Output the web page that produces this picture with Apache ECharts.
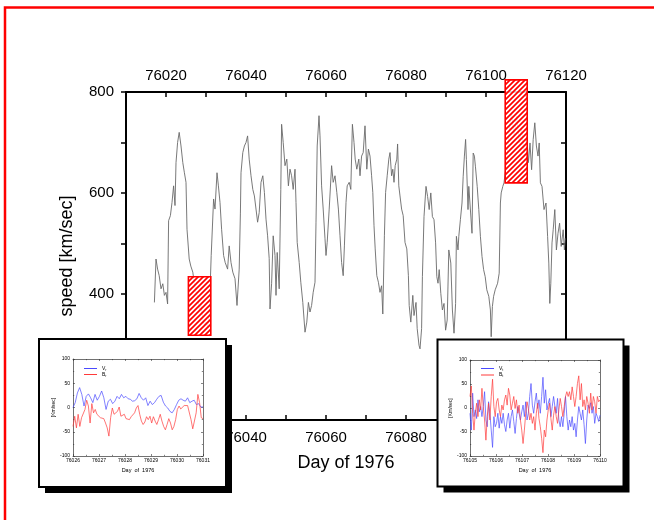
<!DOCTYPE html>
<html>
<head>
<meta charset="utf-8">
<script src="https://cdn.jsdelivr.net/npm/echarts@6/dist/echarts.min.js"></script>
<style>html,body{margin:0;padding:0;background:#fff;}#c{width:654px;height:520px;}</style>
</head>
<body>
<div id="c"></div>
<script>
// ---------- DATA ----------
// Main panel: solar wind speed vs day of 1976
const speedDays = [
  76017.1, 76017.5, 76017.9, 76018.3, 76018.75, 76019.2, 76019.6, 76020.0, 76020.4, 76020.65,
  76021.1, 76021.5, 76021.9, 76022.25, 76022.5, 76022.9, 76023.3, 76023.75, 76024.2, 76024.6,
  76025.0, 76025.25, 76025.8, 76026.2, 76026.7, 76027.1, 76027.5, 76027.9, 76028.3, 76028.7,
  76029.2, 76029.6, 76030.0, 76030.4, 76030.8, 76031.3, 76031.9, 76032.25, 76032.75, 76033.1,
  76033.5, 76033.9, 76034.4, 76034.8, 76035.4, 76035.8, 76036.25, 76036.7, 76037.25, 76037.75,
  76038.3, 76038.6, 76038.75, 76039.2, 76039.6, 76040.0, 76040.4, 76040.8, 76041.25, 76041.7,
  76042.1, 76042.5, 76042.9, 76043.3, 76043.75, 76044.2, 76044.6, 76045.0, 76045.4, 76045.8,
  76046.0, 76046.4, 76046.8, 76047.25, 76047.5, 76047.8, 76048.3, 76048.7, 76048.9, 76049.3,
  76049.75, 76050.2, 76050.6, 76051.0, 76051.4, 76051.8, 76052.25, 76052.5, 76052.8, 76053.3,
  76053.7, 76054.2, 76054.75, 76055.2, 76055.6, 76056.0, 76056.4, 76056.8, 76057.25, 76057.5,
  76057.8, 76058.25, 76058.5, 76058.9, 76059.3, 76059.75, 76060.0, 76060.3, 76060.8, 76061.4,
  76061.8, 76062.25, 76062.7, 76063.1, 76063.5, 76063.9, 76064.3, 76064.6, 76065.0, 76065.3,
  76065.8, 76066.2, 76066.6, 76067.0, 76067.3, 76067.7, 76068.2, 76068.5, 76068.9, 76069.3,
  76069.75, 76070.2, 76070.6, 76071.0, 76071.4, 76071.7, 76072.0, 76072.3, 76072.7, 76073.1,
  76073.5, 76073.9, 76074.2, 76074.6, 76074.9, 76075.3, 76075.7, 76076.0, 76076.4, 76076.7,
  76077.0, 76077.3, 76077.7, 76077.9, 76078.2, 76078.5, 76078.9, 76079.3, 76079.75, 76080.2,
  76080.6, 76080.8, 76081.2, 76081.7, 76082.0, 76082.5, 76082.8, 76083.25, 76083.5, 76083.9,
  76084.1, 76084.5, 76085.0, 76085.4, 76085.8, 76086.2, 76086.6, 76087.0, 76087.4, 76087.7,
  76088.0, 76088.3, 76088.7, 76089.1, 76089.5, 76089.9, 76090.3, 76090.7, 76091.2, 76091.6,
  76092.0, 76092.4, 76092.6, 76093.0, 76093.2, 76093.6, 76094.0, 76094.3, 76094.6, 76094.9,
  76095.1, 76095.5, 76095.7, 76096.1, 76096.5, 76096.8, 76097.1, 76097.35, 76097.8, 76098.2,
  76098.6, 76099.0, 76099.4, 76099.8, 76100.2, 76100.7, 76101.1, 76101.3, 76101.6, 76101.9,
  76102.3, 76102.9, 76103.3, 76103.6, 76103.8, 76104.2, 76104.5, 76105.2, 76105.9, 76106.4,
  76107.0, 76107.7, 76108.3, 76108.9, 76109.5, 76110.2, 76110.6, 76111.0, 76111.4, 76111.8,
  76112.2, 76112.6, 76113.0, 76113.3, 76113.6, 76114.0, 76114.5, 76115.0, 76115.4, 76115.7,
  76115.95, 76116.2, 76116.5, 76116.8, 76117.2, 76117.6, 76118.0, 76118.4, 76118.8, 76119.3,
  76119.6, 76119.8
];
const speedValues = [
  383, 469, 449, 436, 410, 420, 397, 403, 380, 545,
  555, 581, 614, 575, 660, 700, 720, 693, 660, 640,
  621, 528, 469, 455, 443, 420, 403, 395, 370, 380,
  350, 338, 344, 335, 357, 476, 588, 568, 640, 614,
  581, 528, 476, 462, 449, 495, 462, 443, 430, 377,
  449, 560, 640, 680, 693, 700, 713, 667, 634, 607,
  594, 568, 542, 561, 621, 634, 601, 548, 515, 470,
  370, 420, 515, 476, 397, 482, 410, 607, 736, 700,
  654, 667, 614, 647, 634, 607, 647, 581, 502, 462,
  423, 383, 324, 344, 383, 364, 377, 403, 423, 542,
  693, 753, 713, 614, 568, 509, 476, 502, 568, 654,
  621, 634, 601, 568, 515, 462, 436, 495, 581, 614,
  621, 607, 736, 700, 667, 647, 667, 634, 673, 680,
  733, 647, 687, 673, 634, 601, 535, 489, 436, 423,
  403, 416, 360, 515, 601, 634, 667, 680, 634, 647,
  621, 654, 667, 697, 614, 594, 568, 555, 502, 489,
  436, 377, 344, 397, 357, 383, 331, 298, 291, 331,
  434, 553, 613, 593, 567, 600, 553, 547, 501, 434,
  421, 448, 401, 368, 381, 328, 348, 487, 461, 368,
  322, 381, 514, 487, 514, 547, 580, 633, 673, 706,
  666, 567, 613, 613, 520, 679, 673, 653, 613, 567,
  514, 474, 448, 434, 408, 395, 368, 315, 375, 395,
  408, 421, 441, 580, 600, 613, 620, 666, 732, 759,
  713, 752, 699, 726, 679, 713, 660, 699, 646, 706,
  739, 693, 673, 699, 620, 613, 567, 580, 514, 461,
  381, 421, 501, 527, 567, 487, 520, 540, 494, 527,
  487, 510
];
// Highlighted intervals (hatched boxes) in data units
const boxStartDay = [76025.6, 76104.8];
const boxEndDay   = [76031.2, 76110.3];
const boxLowSpeed = [318, 620];
const boxHighSpeed = [434, 824];

// Main axis ticks/labels
const mainXLabels = [76020, 76040, 76060, 76080, 76100, 76120];
const mainYLabels = [200, 400, 600, 800];
const mainYTicks  = [200, 300, 400, 500, 600, 700, 800];

// Left inset: days 76026 - 76031 (uniformly sampled)
const inset1Start = 76026, inset1End = 76031;
const inset1V = [0,10,30,41,27,3,23,28,20,10,27,15,23,34,20,-4,13,17,8,13,23,18,27,20,23,18,17,13,14,18,29,20,15,20,4,13,6,10,17,23,25,11,3,-1,-8,-11,-4,6,15,18,15,13,20,10,13,15,6,8,1,1];
const inset1B = [-39,-18,-42,-14,-39,-21,-25,-4,15,3,-32,8,-11,-4,-14,-10,-21,-17,-23,-32,-42,-59,-21,-1,-14,-18,-8,1,-18,-21,-14,-23,-19,-25,-19,-18,-11,-1,4,-14,-28,-35,-30,-19,-25,-18,-32,-19,-28,-35,-25,-14,-28,-39,-46,-35,-23,-32,-46,-39,-25,-4,3,-3,1,4,4,4,1,-25,-44,-42,-11,27,10,-21,-23];
const inset1XLabels = [76026, 76027, 76028, 76029, 76030, 76031];

// Right inset: days 76105 - 76110 (uniformly sampled)
const inset2Start = 76105, inset2End = 76110;
const inset2V = [-11,-46,31,-18,-4,-22,17,-8,3,-18,3,34,-25,-39,13,-11,-46,-82,-18,-39,-32,-11,-42,-18,-32,-11,-35,-49,-25,-11,-42,-18,-4,-28,-53,-22,3,-11,-25,-8,6,-18,13,-25,-11,24,51,6,-11,13,31,-1,17,-11,24,64,10,38,-4,10,20,-18,3,24,3,-11,20,-25,-39,-18,-39,-11,24,-18,-46,-25,-39,-18,-46,-32,-60,-25,3,-11,-25,-4,-35,-74,-25,6,-1,11,-11,3,-32,-11,-18,-28,-15];
const inset2B = [24,46,-11,-46,-11,10,-18,17,-4,41,3,-25,-67,-18,10,-25,24,60,3,-18,13,20,-4,-18,6,-4,17,27,6,41,27,-4,10,24,-1,17,-11,6,-25,-46,-74,-46,-11,13,-1,-25,-11,-32,-18,-46,-11,10,-22,-39,-63,-93,-46,-60,-25,-4,10,-22,-46,-15,3,-18,-32,-4,20,3,-18,3,24,34,24,34,17,44,24,3,24,51,67,17,51,3,17,-4,24,10,-11,31,-4,24,13,-11,24,13,17];
const inset2XLabels = [76105, 76106, 76107, 76108, 76109, 76110];

// ---------- CHART ----------
const FONT = 'Liberation Sans, Arial, Helvetica, sans-serif';
function uniformSeries(start, end, vals) {
  const n = vals.length;
  return vals.map((v, i) => [start + (end - start) * i / (n - 1), v]);
}
// hatch pattern
const P = 5;
const pc = document.createElement('canvas');
pc.width = P; pc.height = P;
const pctx = pc.getContext('2d');
pctx.fillStyle = 'rgba(255,255,255,0.85)';
pctx.fillRect(0, 0, P, P);
pctx.strokeStyle = '#ff0000';
pctx.lineWidth = 1.7;
pctx.beginPath();
pctx.moveTo(-1, P + 1); pctx.lineTo(P + 1, -1);
pctx.moveTo(-1, 1); pctx.lineTo(1, -1);
pctx.moveTo(P - 1, P + 1); pctx.lineTo(P + 1, P - 1);
pctx.stroke();
const hatch = { image: pc, repeat: 'repeat' };

const chart = echarts.init(document.getElementById('c'), null, { renderer: 'canvas', width: 654, height: 520 });

function insetAxes(gi, xmin, xmax, xlabels, nameGapY) {
  const tickStyle = { color: '#333', width: 0.6 };
  return {
    x: [
      { gridIndex: gi, type: 'value', min: xmin, max: xmax, interval: 1, position: 'bottom', z: 22,
        axisLine: { show: true, onZero: false, lineStyle: { color: '#333', width: 0.7 } },
        axisTick: { show: true, inside: true, length: 2, lineStyle: tickStyle },
        minorTick: { show: true, splitNumber: 2, length: 1.2, lineStyle: tickStyle },
        axisLabel: { fontSize: 5, color: '#000', margin: 2.5, fontFamily: FONT,
          formatter: v => xlabels.includes(Math.round(v)) ? String(Math.round(v)) : '' },
        splitLine: { show: false },
        name: 'Day  of  1976', nameLocation: 'middle', nameGap: 11,
        nameTextStyle: { fontSize: 5.5, color: '#000', fontFamily: FONT } },
      { gridIndex: gi, type: 'value', min: xmin, max: xmax, interval: 1, position: 'top', z: 22,
        axisLine: { show: true, onZero: false, lineStyle: { color: '#333', width: 0.7 } },
        axisTick: { show: true, inside: true, length: 2, lineStyle: tickStyle },
        minorTick: { show: true, splitNumber: 2, length: 1.2, lineStyle: tickStyle },
        axisLabel: { show: false }, splitLine: { show: false } }
    ],
    y: [
      { gridIndex: gi, type: 'value', min: -100, max: 100, interval: 50, position: 'left', z: 22,
        axisLine: { show: true, onZero: false, lineStyle: { color: '#333', width: 0.7 } },
        axisTick: { show: true, inside: true, length: 2, lineStyle: tickStyle },
        minorTick: { show: true, splitNumber: 2, length: 1.2, lineStyle: tickStyle },
        axisLabel: { fontSize: 5, color: '#000', margin: 3, fontFamily: FONT },
        splitLine: { show: false },
        name: '[Km/sec]', nameLocation: 'middle', nameGap: nameGapY, nameRotate: 90,
        nameTextStyle: { fontSize: 5, color: '#000', fontFamily: FONT } },
      { gridIndex: gi, type: 'value', min: -100, max: 100, interval: 50, position: 'right', z: 22,
        axisLine: { show: true, onZero: false, lineStyle: { color: '#333', width: 0.7 } },
        axisTick: { show: true, inside: true, length: 2, lineStyle: tickStyle },
        minorTick: { show: true, splitNumber: 2, length: 1.2, lineStyle: tickStyle },
        axisLabel: { show: false }, splitLine: { show: false } }
    ]
  };
}
const ia1 = insetAxes(1, inset1Start, inset1End, inset1XLabels, 17);
const ia2 = insetAxes(2, inset2Start, inset2End, inset2XLabels, 16);

const legendRich = { s: { fontSize: 3.5, verticalAlign: 'bottom', padding: [3, 0, 0, 0], fontFamily: FONT, color: '#000' } };
const legendFmt = name => name.replace(/^(.)_(.)$/, '$1{s|$2}');

const option = {
  animation: false,
  backgroundColor: '#fff',
  textStyle: { fontFamily: FONT },
  grid: [
    { left: 126, top: 92, width: 440, height: 328, z: 0 },
    { left: 73, top: 359, width: 130, height: 97, z: 21 },
    { left: 470, top: 360, width: 130, height: 96, z: 21 }
  ],
  legend: [
    { data: ['V_r', 'B_r'], left: 79, top: 361, orient: 'vertical', z: 25,
      itemWidth: 13, itemHeight: 1, itemGap: 0, icon: 'rect',
      textStyle: { fontSize: 5, color: '#000', fontFamily: FONT, rich: legendRich },
      formatter: legendFmt, selectedMode: false },
    { data: ['V_t', 'B_t'], left: 476, top: 361, orient: 'vertical', z: 25,
      itemWidth: 13, itemHeight: 1, itemGap: 0.5, icon: 'rect',
      textStyle: { fontSize: 5, color: '#000', fontFamily: FONT, rich: legendRich },
      formatter: legendFmt, selectedMode: false }
  ],
  xAxis: [
    { gridIndex: 0, type: 'value', min: 76010, max: 76120, interval: 10, position: 'bottom',
      axisLine: { show: true, onZero: false, lineStyle: { color: '#000', width: 2 } },
      axisTick: { show: true, inside: true, length: 5, lineStyle: { color: '#000', width: 1.5 } },
      axisLabel: { fontSize: 15, color: '#000', margin: 10, fontFamily: FONT,
        formatter: v => mainXLabels.includes(Math.round(v)) ? String(Math.round(v)) : '' },
      splitLine: { show: false },
      name: 'Day of 1976', nameLocation: 'middle', nameGap: 34,
      nameTextStyle: { fontSize: 18, color: '#000', fontFamily: FONT } },
    { gridIndex: 0, type: 'value', min: 76010, max: 76120, interval: 10, position: 'top',
      axisLine: { show: true, onZero: false, lineStyle: { color: '#000', width: 2 } },
      axisTick: { show: true, inside: true, length: 5, lineStyle: { color: '#000', width: 1.5 } },
      axisLabel: { fontSize: 15, color: '#000', margin: 9, fontFamily: FONT,
        formatter: v => mainXLabels.includes(Math.round(v)) ? String(Math.round(v)) : '' },
      splitLine: { show: false } },
    ia1.x[0], ia1.x[1], ia2.x[0], ia2.x[1]
  ],
  yAxis: [
    { gridIndex: 0, type: 'value', min: 150, max: 800, interval: 50, position: 'left',
      axisLine: { show: true, onZero: false, lineStyle: { color: '#000', width: 2 } },
      axisTick: { show: true, inside: false, length: 5, customValues: mainYTicks, lineStyle: { color: '#000', width: 1.5 } },
      axisLabel: { fontSize: 15, color: '#000', margin: 12, fontFamily: FONT, customValues: mainYLabels,
        formatter: v => mainYLabels.includes(v) ? String(v) : '' },
      splitLine: { show: false },
      name: 'speed [km/sec]', nameLocation: 'middle', nameGap: 50, nameRotate: 90,
      nameTextStyle: { fontSize: 18, color: '#000', fontFamily: FONT } },
    { gridIndex: 0, type: 'value', min: 150, max: 800, interval: 50, position: 'right',
      axisLine: { show: true, onZero: false, lineStyle: { color: '#000', width: 2 } },
      axisTick: { show: true, inside: true, length: 5, customValues: mainYTicks, lineStyle: { color: '#000', width: 1.5 } },
      axisLabel: { show: false }, splitLine: { show: false } },
    ia1.y[0], ia1.y[1], ia2.y[0], ia2.y[1]
  ],
  graphic: [
    { type: 'rect', z: 20, shape: { x: 45, y: 345, width: 187, height: 148 }, style: { fill: '#000' } },
    { type: 'rect', z: 20.5, shape: { x: 39, y: 339, width: 187, height: 148 }, style: { fill: '#fff', stroke: '#000', lineWidth: 2 } },
    { type: 'rect', z: 20, shape: { x: 443.5, y: 345.5, width: 186, height: 147 }, style: { fill: '#000' } },
    { type: 'rect', z: 20.5, shape: { x: 437.5, y: 339.5, width: 186, height: 147 }, style: { fill: '#fff', stroke: '#000', lineWidth: 2 } },
    { type: 'rect', z: 40, silent: true, shape: { x: 5, y: 7.5, width: 900, height: 900 }, style: { fill: 'none', stroke: '#ff0000', lineWidth: 2.5 } }
  ],
  series: [
    { type: 'line', name: 'speed', xAxisIndex: 0, yAxisIndex: 0, z: 2,
      data: speedDays.map((d, i) => [d, speedValues[i]]),
      showSymbol: false, lineStyle: { color: '#6a6a6a', width: 0.9 }, silent: true },
    { type: 'custom', name: 'boxes', xAxisIndex: 0, yAxisIndex: 0, z: 5, clip: false, silent: true,
      data: boxStartDay.map((s, i) => [s, boxEndDay[i], boxLowSpeed[i], boxHighSpeed[i]]),
      renderItem: function (params, api) {
        const p0 = api.coord([api.value(0), api.value(3)]);
        const p1 = api.coord([api.value(1), api.value(2)]);
        return { type: 'rect',
          shape: { x: p0[0], y: p0[1], width: p1[0] - p0[0], height: p1[1] - p0[1] },
          style: { fill: hatch, stroke: '#ff0000', lineWidth: 1.6 } };
      } },
    { type: 'line', name: 'V_r', xAxisIndex: 2, yAxisIndex: 2, z: 23, showSymbol: false,
      data: uniformSeries(inset1Start, inset1End, inset1V), lineStyle: { color: '#4a4aff', width: 0.7 }, itemStyle: { color: '#4a4aff' } },
    { type: 'line', name: 'B_r', xAxisIndex: 2, yAxisIndex: 2, z: 23, showSymbol: false,
      data: uniformSeries(inset1Start, inset1End, inset1B), lineStyle: { color: '#ff3a3a', width: 0.7 }, itemStyle: { color: '#ff3a3a' } },
    { type: 'line', name: 'V_t', xAxisIndex: 4, yAxisIndex: 4, z: 23, showSymbol: false,
      data: uniformSeries(inset2Start, inset2End, inset2V), lineStyle: { color: '#4a4aff', width: 0.7 }, itemStyle: { color: '#4a4aff' } },
    { type: 'line', name: 'B_t', xAxisIndex: 4, yAxisIndex: 4, z: 23, showSymbol: false,
      data: uniformSeries(inset2Start, inset2End, inset2B), lineStyle: { color: '#ff3a3a', width: 0.7 }, itemStyle: { color: '#ff3a3a' } }
  ]
};
chart.setOption(option);
</script>
</body>
</html>
